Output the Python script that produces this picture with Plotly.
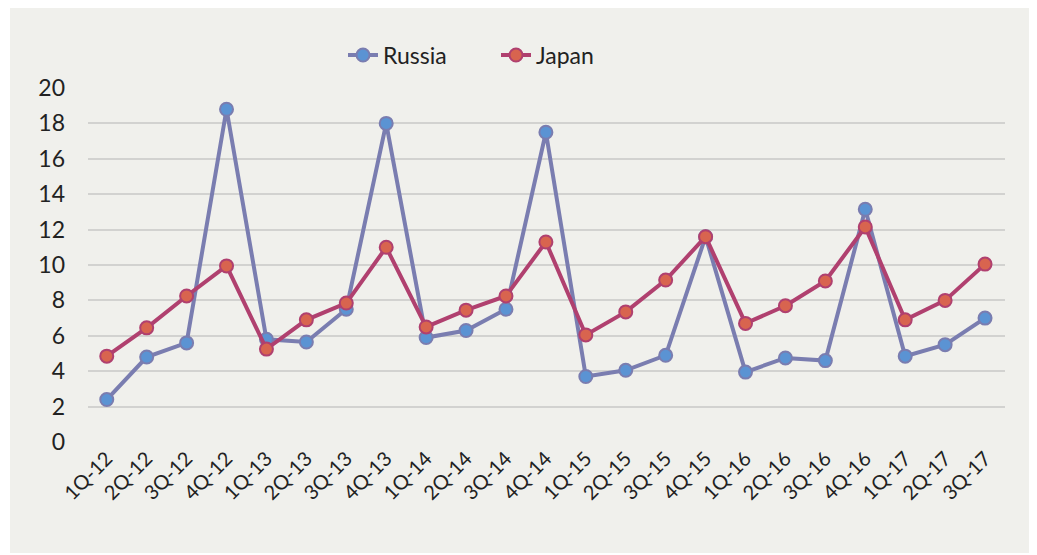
import plotly.graph_objects as go

quarters = ["1Q-12", "2Q-12", "3Q-12", "4Q-12", "1Q-13", "2Q-13", "3Q-13", "4Q-13",
            "1Q-14", "2Q-14", "3Q-14", "4Q-14", "1Q-15", "2Q-15", "3Q-15", "4Q-15",
            "1Q-16", "2Q-16", "3Q-16", "4Q-16", "1Q-17", "2Q-17", "3Q-17"]
russia = [2.4, 4.8, 5.6, 18.8, 5.8, 5.65, 7.5, 18.0, 5.9, 6.3, 7.5, 17.5,
          3.7, 4.05, 4.9, 11.6, 3.95, 4.75, 4.6, 13.15, 4.85, 5.5, 7.0]
japan = [4.85, 6.45, 8.25, 9.95, 5.25, 6.9, 7.85, 11.0, 6.5, 7.45, 8.25, 11.3,
         6.05, 7.35, 9.15, 11.6, 6.7, 7.7, 9.1, 12.15, 6.9, 8.0, 10.05]
y_ticks = list(range(0, 21, 2))

# page body has an 8px margin, so the figure is offset by 8px
W, H = 1029, 547
L, R, T, B = 80, 32, 80, 113
pw, ph = W - L - R, H - T - B

fig = go.Figure()
fig.add_trace(go.Scatter(
    x=quarters, y=russia, name="Russia", mode="lines+markers",
    line=dict(color="#7a7db0", width=4),
    marker=dict(size=13, color="#5b93d3", line=dict(color="#7a7db0", width=2)),
))
fig.add_trace(go.Scatter(
    x=quarters, y=japan, name="Japan", mode="lines+markers",
    line=dict(color="#b0406f", width=4),
    marker=dict(size=13, color="#d8644f", line=dict(color="#b0406f", width=2)),
))

# gray chart background panel
fig.add_shape(type="rect", xref="paper", yref="paper", layer="below",
              x0=(2 - L) / pw, x1=(1027 - L) / pw,
              y0=(H - B - 545) / ph, y1=(H - B + 10) / ph,
              fillcolor="#f0f0ec", line=dict(width=0))

fig.update_layout(
    width=W, height=H,
    margin=dict(l=L, r=R, t=T, b=B),
    paper_bgcolor="white", plot_bgcolor="rgba(0,0,0,0)",
    font=dict(family="Lato, Open Sans, sans-serif", size=22, color="#222222"),
    legend=dict(orientation="h", x=(335 - L) / pw, xanchor="left", y=1.093, yanchor="middle",
                bgcolor="rgba(0,0,0,0)", font=dict(size=23),
                entrywidth=108, entrywidthmode="pixels"),
    xaxis=dict(type="category", range=[-0.47, 22.5], tickangle=-45,
               showgrid=False, zeroline=False, showline=False, ticks="",
               tickfont=dict(size=20)),
    yaxis=dict(range=[0, 20.0], tickvals=y_ticks, showgrid=True,
               gridcolor="#d2d2d0", gridwidth=2, zeroline=False, showline=False,
               ticks="", ticklabelstandoff=22, tickfont=dict(size=23)),
)

fig.write_html("out.html")
